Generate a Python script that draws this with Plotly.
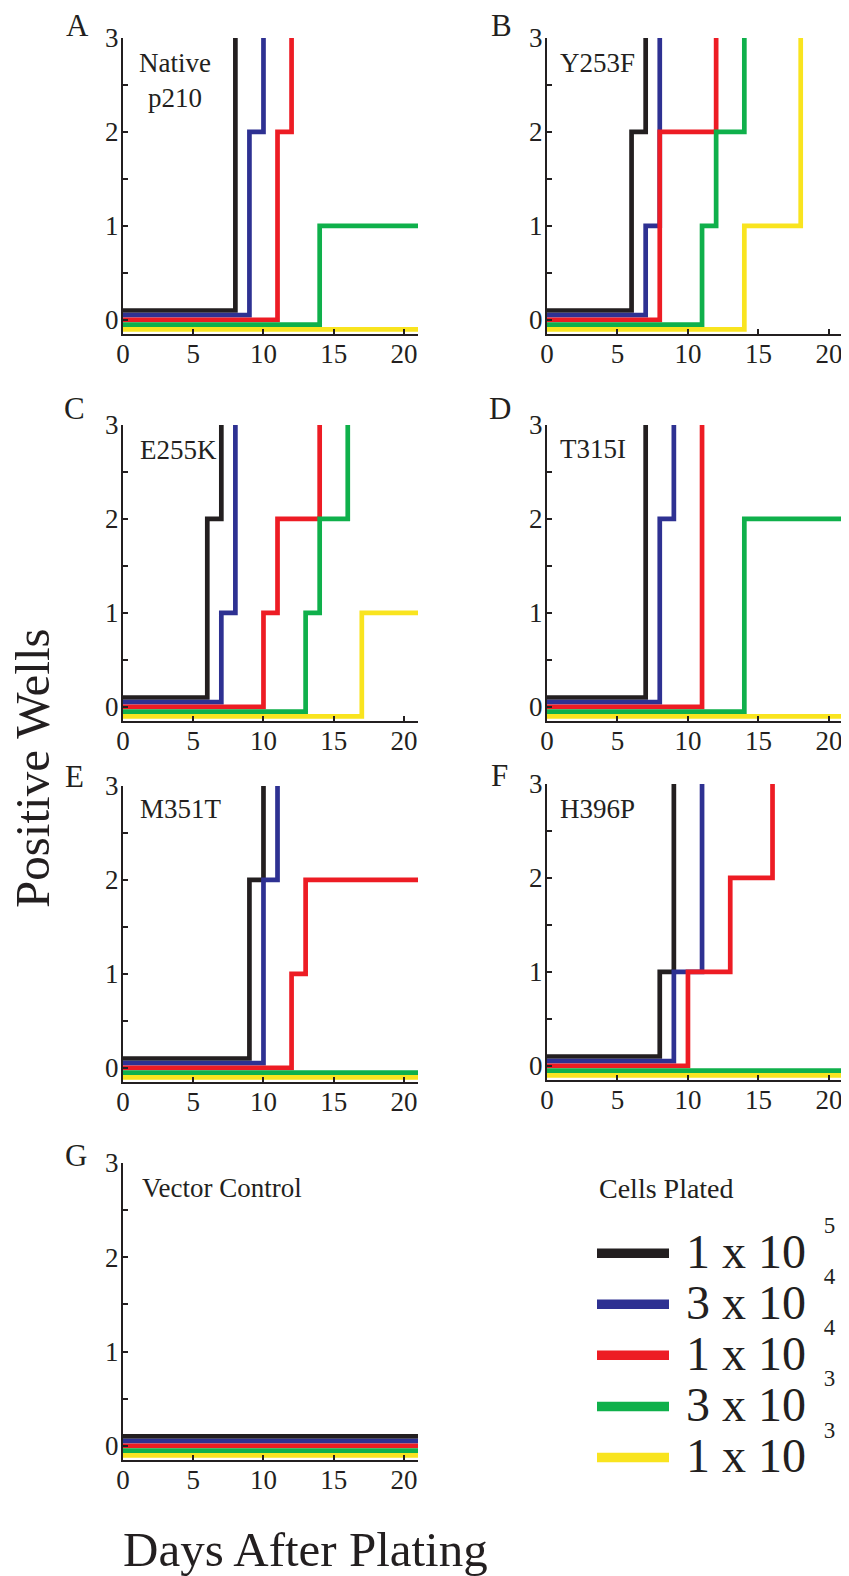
import plotly.graph_objects as go

W, H = 849, 1576
FONT = "Liberation Serif, Times New Roman, serif"
TXT = "#231f20"

# ---------------- data ----------------
series_bases = ["1 x 10", "3 x 10", "1 x 10", "3 x 10", "1 x 10"]
series_exponents = ["5", "4", "4", "3", "3"]
series_colors = ["#231f20", "#2e3192", "#ed1c24", "#0fb04b", "#f9e41f"]
zero_offsets = [0.1, 0.05, 0.0, -0.05, -0.1]   # separation of the overlapping zero lines

panel_letters = ["A", "B", "C", "D", "E", "F", "G"]
panel_labels = ["Native<br>p210", "Y253F", "E255K", "T315I", "M351T", "H396P", "Vector Control"]

x_tickvals = [0, 5, 10, 15, 20]
y_tickvals = [0, 1, 2, 3]
y_minor_tickvals = [0.5, 1.5, 2.5]

# day at which each step starts / positive wells from that day on
# series order: 1e5 (black), 3e4 (blue), 1e4 (red), 3e3 (green), 1e3 (yellow)
A_days = [[0, 8], [0, 9, 10], [0, 11, 12], [0, 14, 21], [0, 21]]
A_wells = [[0, 3], [0, 2, 3], [0, 2, 3], [0, 1, 1], [0, 0]]
B_days = [[0, 6, 7], [0, 7, 8], [0, 8, 12], [0, 11, 12, 14], [0, 14, 18]]
B_wells = [[0, 2, 3], [0, 1, 3], [0, 2, 3], [0, 1, 2, 3], [0, 1, 3]]
C_days = [[0, 6, 7], [0, 7, 8], [0, 10, 11, 14], [0, 13, 14, 16], [0, 17, 21]]
C_wells = [[0, 2, 3], [0, 1, 3], [0, 1, 2, 3], [0, 1, 2, 3], [0, 1, 1]]
D_days = [[0, 7], [0, 8, 9], [0, 11], [0, 14, 21], [0, 21]]
D_wells = [[0, 3], [0, 2, 3], [0, 3], [0, 2, 2], [0, 0]]
E_days = [[0, 9, 10], [0, 10, 11], [0, 12, 13, 21], [0, 21], [0, 21]]
E_wells = [[0, 2, 3], [0, 2, 3], [0, 1, 2, 2], [0, 0], [0, 0]]
F_days = [[0, 8, 9], [0, 9, 11], [0, 10, 13, 16], [0, 21], [0, 21]]
F_wells = [[0, 1, 3], [0, 1, 3], [0, 1, 2, 3], [0, 0], [0, 0]]
G_days = [[0, 21], [0, 21], [0, 21], [0, 21], [0, 21]]
G_wells = [[0, 0], [0, 0], [0, 0], [0, 0], [0, 0]]

panel_days = [A_days, B_days, C_days, D_days, E_days, F_days, G_days]
panel_wells = [A_wells, B_wells, C_wells, D_wells, E_wells, F_wells, G_wells]

# ---------------- layout geometry (target pixels in the picture) ----------------
OFF_X, OFF_Y = 8, 8   # page (body) offset between figure paper and screenshot

panel_px = [
    ((123, 418), (38, 334)),
    ((547, 843), (38, 334)),
    ((123, 418), (425, 721)),
    ((547, 843), (425, 721)),
    ((123, 418), (786, 1082)),
    ((547, 843), (784, 1080)),
    ((123, 418), (1163, 1460)),
]
letter_px = [(77, 25), (501, 25), (74, 408), (500, 408), (74, 777), (499, 775), (76, 1155)]
label_px = [(175, 80, "center"), (558, 63, "left"), (138, 450, "left"), (558, 449, "left"),
            (138, 809, "left"), (558, 809, "left"), (140, 1188, "left")]


def px_x(x):
    return (x - OFF_X) / W


def px_y(y):
    return 1 - (y - OFF_Y) / H


fig = go.Figure()

for p in range(7):
    ax = "" if p == 0 else str(p + 1)
    for s in range(5):
        days = panel_days[p][s]
        wells = panel_wells[p][s]
        yv = [w + zero_offsets[s] if w == 0 else w for w in wells]
        fig.add_trace(go.Scatter(
            x=days, y=yv, mode="lines", line=dict(color=series_colors[s], width=4.7, shape="hv"),
            xaxis="x" + ax, yaxis="y" + ax, showlegend=False, hoverinfo="skip"))

# legend entries
for s in range(5):
    name = ('<span style="font-size:48px">&nbsp;' + series_bases[s] + ' </span>'
            '<sup><sup><span style="font-size:23px;baseline-shift:8px">&nbsp;' + series_exponents[s]
            + '</span></sup></sup>')
    fig.add_trace(go.Scatter(
        x=[None], y=[None], mode="lines", name=name,
        line=dict(color=series_colors[s], width=9.5), xaxis="x", yaxis="y", showlegend=True))

layout = dict(
    template="none",
    width=W, height=H, margin=dict(l=0, r=0, t=0, b=0, autoexpand=False),
    paper_bgcolor="white", plot_bgcolor="white",
    font=dict(family=FONT, color=TXT, size=25),
    showlegend=True,
    legend=dict(x=px_x(592), y=px_y(1207), xanchor="left", yanchor="top",
                font=dict(family=FONT, size=37, color=TXT),
                title=dict(text="&nbsp;", font=dict(family=FONT, size=12, color="white")),
                itemwidth=72, tracegroupgap=0, bgcolor="rgba(0,0,0,0)", borderwidth=0,
                itemclick=False, itemdoubleclick=False),
)

annotations = []
for p in range(7):
    ax = "" if p == 0 else str(p + 1)
    (x0, x1), (y0, y1) = panel_px[p]
    layout["xaxis" + ax] = dict(
        domain=[px_x(x0), px_x(x1)], range=[0, 21], anchor="y" + ax,
        tickvals=x_tickvals, ticks="inside", ticklen=5, tickwidth=2, tickcolor=TXT,
        showline=True, linewidth=2, linecolor=TXT, showgrid=False, zeroline=False,
        ticklabelstandoff=-5, automargin=False,
        tickfont=dict(family=FONT, size=27, color=TXT), fixedrange=True)
    layout["yaxis" + ax] = dict(
        domain=[px_y(y1), px_y(y0)], range=[-0.15, 3], anchor="x" + ax,
        tickvals=y_tickvals, ticks="inside", ticklen=5, tickwidth=2, tickcolor=TXT,
        minor=dict(tickvals=y_minor_tickvals, ticks="inside", ticklen=5, tickwidth=2, tickcolor=TXT),
        showline=True, linewidth=2, linecolor=TXT, showgrid=False, zeroline=False,
        ticklabelstandoff=-3, automargin=False,
        tickfont=dict(family=FONT, size=27, color=TXT), fixedrange=True)
    lx, ly = letter_px[p]
    annotations.append(dict(text=panel_letters[p], x=px_x(lx), y=px_y(ly), xref="paper", yref="paper",
                            xanchor="center", yanchor="middle", showarrow=False,
                            font=dict(family=FONT, size=31, color=TXT)))
    tx, ty, al = label_px[p]
    annotations.append(dict(text=panel_labels[p], x=px_x(tx), y=px_y(ty), xref="paper", yref="paper",
                            xanchor=al, yanchor="middle", align="center", showarrow=False,
                            font=dict(family=FONT, size=27, color=TXT)))

annotations.append(dict(text="Cells Plated", x=px_x(597), y=px_y(1188), xref="paper", yref="paper",
                        xanchor="left", yanchor="middle", showarrow=False,
                        font=dict(family=FONT, size=28, color=TXT)))
annotations.append(dict(text="Positive Wells", x=px_x(32), y=px_y(768), xref="paper", yref="paper",
                        textangle=-90, xanchor="center", yanchor="middle", showarrow=False,
                        font=dict(family=FONT, size=49, color=TXT)))
annotations.append(dict(text="Days After Plating", x=px_x(305), y=px_y(1549), xref="paper", yref="paper",
                        xanchor="center", yanchor="middle", showarrow=False,
                        font=dict(family=FONT, size=49, color=TXT)))
layout["annotations"] = annotations

fig.update_layout(**layout)
fig.write_html("out.html")
